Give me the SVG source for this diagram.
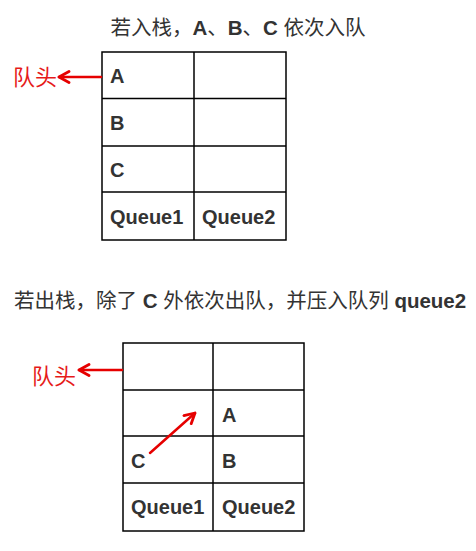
<svg xmlns="http://www.w3.org/2000/svg" width="476" height="551" viewBox="0 0 476 551">
<defs>
<style>
.t{font-family:"Liberation Sans","Noto Sans CJK SC",sans-serif;fill:#333}
.b{font-weight:bold}
.cell{font-family:"Liberation Sans",sans-serif;font-weight:bold;font-size:20px;fill:#333}
.red{font-family:"Noto Sans CJK SC",sans-serif;font-size:22px;fill:#e61a1a}
.grid{fill:none;stroke:#000;stroke-width:1.5}
.arr{fill:none;stroke:#e60000;stroke-width:2.5;stroke-linecap:round;stroke-linejoin:round}
</style>
<marker id="ah" viewBox="0 0 14 14" refX="12" refY="7" markerWidth="14" markerHeight="14" orient="auto" markerUnits="userSpaceOnUse">
<path d="M2,1.5 L12,7 L2,12.5" fill="none" stroke="#e60000" stroke-width="2.8" stroke-linecap="round" stroke-linejoin="round"/>
</marker>
</defs>
<rect width="476" height="551" fill="#fff"/>
<text class="t" x="238" y="35" font-size="20.5" text-anchor="middle">若入栈，<tspan class="b">A</tspan>、<tspan class="b">B</tspan>、<tspan class="b">C</tspan> 依次入队</text>
<g id="table1">
<rect class="grid" x="102" y="52" width="184" height="188"/>
<line class="grid" x1="194" y1="52" x2="194" y2="240"/>
<line class="grid" x1="102" y1="98.5" x2="286" y2="98.5"/>
<line class="grid" x1="102" y1="146" x2="286" y2="146"/>
<line class="grid" x1="102" y1="192" x2="286" y2="192"/>
<text class="cell" x="110" y="83">A</text>
<text class="cell" x="110" y="130">B</text>
<text class="cell" x="110" y="177">C</text>
<text class="cell" x="110" y="224">Queue1</text>
<text class="cell" x="202" y="224">Queue2</text>
</g>
<g id="head1"><text class="red" x="13" y="85">队头</text></g>
<text class="t" x="14" y="308" font-size="20.5">若出栈，除了 <tspan class="b">C</tspan> 外依次出队，并压入队列 <tspan class="b">queue2</tspan></text>
<g id="table2">
<rect class="grid" x="123" y="343" width="181" height="188"/>
<line class="grid" x1="213" y1="343" x2="213" y2="531"/>
<line class="grid" x1="123" y1="390" x2="304" y2="390"/>
<line class="grid" x1="123" y1="436" x2="304" y2="436"/>
<line class="grid" x1="123" y1="483" x2="304" y2="483"/>
<text class="cell" x="222" y="422">A</text>
<text class="cell" x="131" y="468">C</text>
<text class="cell" x="222" y="468">B</text>
<text class="cell" x="131" y="514">Queue1</text>
<text class="cell" x="222" y="514">Queue2</text>
</g>
<g id="head2"><text class="red" x="32" y="384">队头</text></g>
<g id="connectors">
<line class="arr" x1="101" y1="77" x2="59" y2="77" marker-end="url(#ah)"/>
<line class="arr" x1="122" y1="370" x2="79" y2="370" marker-end="url(#ah)"/>
<line class="arr" x1="150" y1="453" x2="195" y2="413" marker-end="url(#ah)"/>
</g>
</svg>
